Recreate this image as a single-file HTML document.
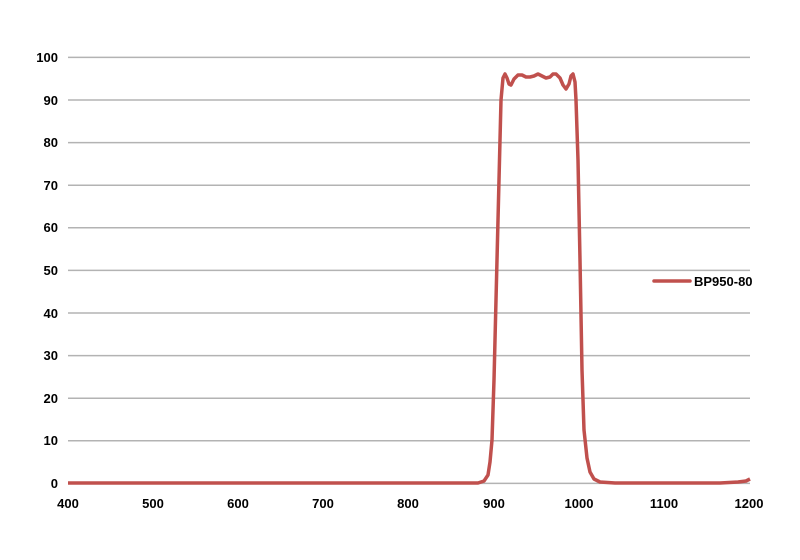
<!DOCTYPE html>
<html><head><style>
body{margin:0;background:#fff;}
svg{display:block;font-family:"Liberation Sans",sans-serif;font-weight:bold;font-size:13px;}
</style></head><body>
<svg width="800" height="560" xmlns="http://www.w3.org/2000/svg">
<g stroke="#b3b3b3" stroke-width="1.5">
<line x1="68" x2="750" y1="57.4" y2="57.4"/>
<line x1="68" x2="750" y1="100" y2="100"/>
<line x1="68" x2="750" y1="142.6" y2="142.6"/>
<line x1="68" x2="750" y1="185.2" y2="185.2"/>
<line x1="68" x2="750" y1="227.8" y2="227.8"/>
<line x1="68" x2="750" y1="270.4" y2="270.4"/>
<line x1="68" x2="750" y1="313" y2="313"/>
<line x1="68" x2="750" y1="355.6" y2="355.6"/>
<line x1="68" x2="750" y1="398.2" y2="398.2"/>
<line x1="68" x2="750" y1="440.8" y2="440.8"/>
<line x1="68" x2="750" y1="483.4" y2="483.4"/>
</g>
<g text-anchor="end" fill="#000">
<text x="58" y="62">100</text><text x="58" y="105">90</text><text x="58" y="147">80</text>
<text x="58" y="190">70</text><text x="58" y="232">60</text><text x="58" y="275">50</text>
<text x="58" y="318">40</text><text x="58" y="360">30</text><text x="58" y="403">20</text>
<text x="58" y="445">10</text><text x="58" y="488">0</text>
</g>
<g text-anchor="middle" fill="#000">
<text x="68" y="508">400</text><text x="153" y="508">500</text><text x="238" y="508">600</text>
<text x="323" y="508">700</text><text x="408" y="508">800</text><text x="494" y="508">900</text>
<text x="579" y="508">1000</text><text x="664" y="508">1100</text><text x="749" y="508">1200</text>
</g>
<path fill="none" stroke="#c0504d" stroke-width="3.5" stroke-linejoin="round" d="M68,483 L478,483 L484,481 L488,475 L490,462 L492,440 L494,380 L496,300 L498,220 L500,140 L501,100 L503,78 L505,74 L507,78 L509,84 L511,85 L514,79 L518,75 L522,75 L526,77 L530,77 L534,76 L538,74 L542,76 L546,78 L550,77 L553,74 L556,74 L560,78 L563,85 L566,89 L569,84 L571,76 L573,74 L575,82 L576,100 L578,160 L580,260 L582,370 L584,430 L587,458 L590,472 L594,479 L600,482 L615,483 L720,483 L738,482 L746,481 L750,479"/>
<line x1="654" x2="690" y1="281" y2="281" stroke="#c0504d" stroke-width="3.5" stroke-linecap="round"/>
<text x="694" y="286" fill="#000">BP950-80</text>
</svg>
</body></html>
